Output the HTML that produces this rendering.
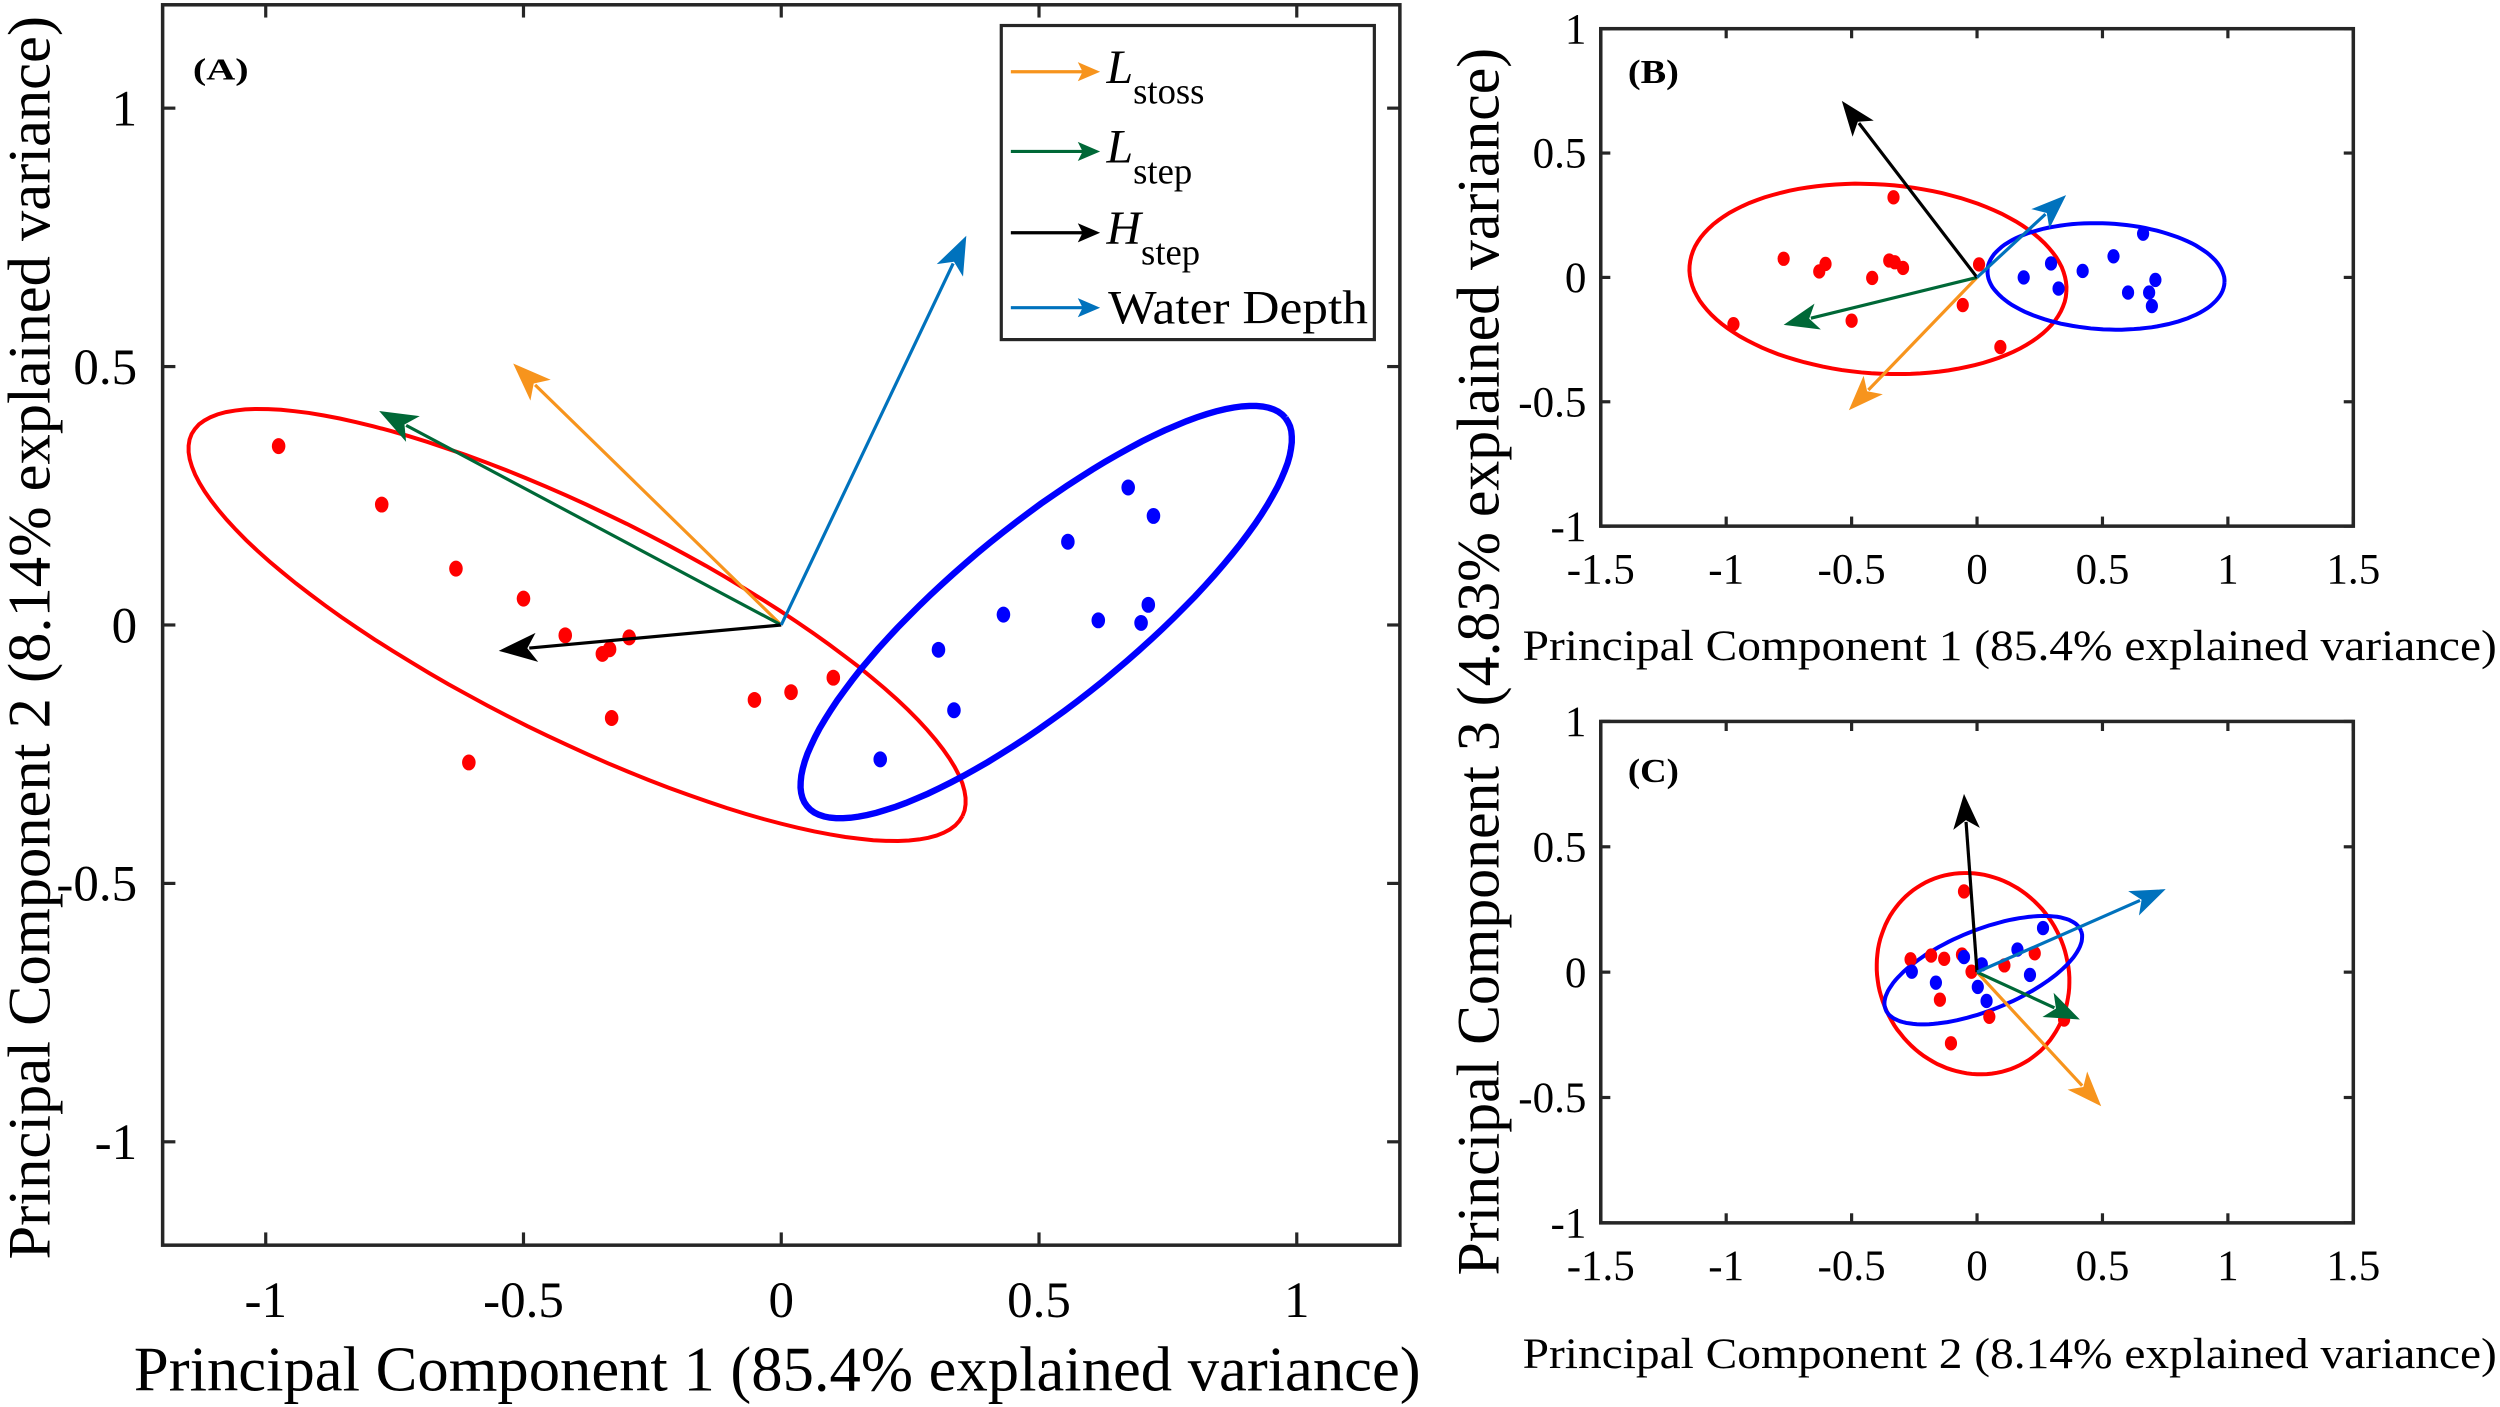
<!DOCTYPE html>
<html><head><meta charset="utf-8"><style>html,body{margin:0;padding:0;background:#fff}svg{display:block}</style></head>
<body>
<svg id="fig" xmlns="http://www.w3.org/2000/svg" width="2500" height="1407" viewBox="0 0 1568 882.5" preserveAspectRatio="none"></svg>
<script>
// Panel A data (PC1 vs PC2)
const redA_x=[-0.975,-0.775,-0.631,-0.500,-0.419,-0.295,-0.333,-0.347,-0.329,-0.606,-0.052,0.019,0.101];
const redA_y=[0.346,0.233,0.109,0.051,-0.020,-0.024,-0.047,-0.056,-0.180,-0.266,-0.145,-0.130,-0.102];
const blueA_x=[0.673,0.722,0.556,0.712,0.431,0.615,0.698,0.305,0.335,0.192];
const blueA_y=[0.266,0.211,0.161,0.039,0.020,0.009,0.004,-0.048,-0.165,-0.260];
const arrowA_x=[-0.52,-0.78,-0.548,0.359];
const arrowA_y=[0.506,0.414,-0.05,0.753];
// Panel B data (PC1 vs PC3)
const redB_x=[-0.771,-0.604,-0.629,-0.418,-0.350,-0.328,-0.295,-0.333,0.008,-0.057,-0.500,-0.971,0.093];
const redB_y=[0.075,0.054,0.024,-0.002,0.068,0.061,0.038,0.322,0.052,-0.111,-0.174,-0.188,-0.280];
const blueB_x=[0.186,0.295,0.325,0.421,0.544,0.602,0.662,0.686,0.711,0.697];
const blueB_y=[0,0.056,-0.045,0.026,0.085,-0.061,0.176,-0.061,-0.010,-0.115];
const arrowB_x=[-0.511,-0.771,-0.539,0.355];
const arrowB_y=[-0.534,-0.191,0.710,0.331];
// Panel C data (PC2 vs PC3)
const redC_x=[-0.052,-0.265,-0.183,-0.131,-0.060,-0.022,0.109,0.230,-0.148,-0.104,0.049,0.347];
const redC_y=[0.322,0.051,0.066,0.053,0.070,0.002,0.027,0.075,-0.110,-0.284,-0.178,-0.189];
const blueC_x=[-0.260,-0.164,-0.052,0.019,0.003,0.038,0.161,0.211,0.263];
const blueC_y=[0.002,-0.042,0.060,0.031,-0.059,-0.115,0.090,-0.011,0.176];
const arrowC_x=[0.495,0.410,-0.052,0.752];
const arrowC_y=[-0.535,-0.189,0.711,0.331];
const arrowColors=['#f7941d','#006837','#000000','#0072bd'];
const arrowNames=['l-stoss','l-step','h-step','water-depth'];
// ellipses: [cx, cy, a, b, angleDeg]
const ellA_red=[-0.396,0.0,0.834,0.218,-26.3];
const ellA_blue=[0.514,0.025,0.597,0.173,39];
const ellB_red=[-0.395,-0.006,0.753,0.380,-4];
const ellB_blue=[0.514,0.004,0.473,0.213,-3];
const ellC_red=[-0.016,-0.006,0.41,0.375,-60];
const ellC_blue=[0.025,0.008,0.42,0.16,22];
const ticksA=[-1,-0.5,0,0.5,1];
const ticksBx=[-1.5,-1,-0.5,0,0.5,1,1.5];
const ticksBy=[-1,-0.5,0,0.5,1];

const NS='http://www.w3.org/2000/svg';
const svg=document.getElementById('fig');
const SERIF='"Liberation Serif",serif';
function el(tag,attrs,parent){const e=document.createElementNS(NS,tag);for(const k in attrs)e.setAttribute(k,attrs[k]);(parent||svg).appendChild(e);return e;}
function lab(v){return String(v);}

function panel(p){
  const g=el('g',{});
  
  
  const sx=v=>p.x0+(v-p.xmin)/(p.xmax-p.xmin)*(p.x1-p.x0);
  const sy=v=>p.y1-(v-p.ymin)/(p.ymax-p.ymin)*(p.y1-p.y0);
  [[p.ellRed,'#ff0000',p.ellW[0],'red-group-ellipse'],[p.ellBlue,'#0000ff',p.ellW[1],'blue-group-ellipse']].forEach(([e,c,w,n])=>{
    const pts=[];const t=e[4]*Math.PI/180;
    for(let i=0;i<=120;i++){const s=i/120*2*Math.PI;const dx=e[2]*Math.cos(s),dy=e[3]*Math.sin(s);
      const X=e[0]+dx*Math.cos(t)-dy*Math.sin(t),Y=e[1]+dx*Math.sin(t)+dy*Math.cos(t);
      pts.push(sx(X).toFixed(1)+','+sy(Y).toFixed(1));}
    const pl=el('polyline',{points:pts.join(' '),fill:'none',stroke:c,'stroke-width':w},g);
    
    
  });
  [[p.rx,p.ry,'#ff0000','red-point'],[p.bx,p.by,'#0000ff','blue-point']].forEach(([xs,ys,c,n])=>{
    xs.forEach((v,i)=>{const d=el('ellipse',{cx:sx(v),cy:sy(ys[i]),rx:p.dot*0.85,ry:p.dot,fill:c},g);
      
      });
  });
  const ox=sx(0),oy=sy(0);
  p.ax.forEach((v,i)=>{
    const tx=sx(v),ty=sy(p.ay[i]);const c=arrowColors[i];
    const ang=Math.atan2(ty-oy,tx-ox);const L=p.head,W=p.head*0.38;
    const bx=tx-L*Math.cos(ang),by=ty-L*Math.sin(ang);
    const nx=-Math.sin(ang),ny=Math.cos(ang);
    const ag=el('g',{},g);
    
    
    el('line',{x1:ox,y1:oy,x2:bx+L*Math.cos(ang)*0.2,y2:by+L*Math.sin(ang)*0.2,stroke:c,'stroke-width':p.aw},ag);
    const mx=tx-L*0.75*Math.cos(ang),my=ty-L*0.75*Math.sin(ang);
    el('polygon',{points:`${tx},${ty} ${bx+nx*W},${by+ny*W} ${mx},${my} ${bx-nx*W},${by-ny*W}`,fill:c},ag);
  });
  const bx=el('rect',{x:p.x0,y:p.y0,width:p.x1-p.x0,height:p.y1-p.y0,fill:'none',stroke:'#262626','stroke-width':2.2},g);
  
  
  const tl=p.tickLen;
  p.tx.forEach(v=>{const X=sx(v);
    el('line',{x1:X,y1:p.y1,x2:X,y2:p.y1-tl,stroke:'#262626','stroke-width':2},g);
    el('line',{x1:X,y1:p.y0,x2:X,y2:p.y0+tl,stroke:'#262626','stroke-width':2},g);
    const t=el('text',{x:X,y:p.y1+p.xlOff,'text-anchor':'middle','font-size':p.fs,'font-family':SERIF},g);
    t.textContent=lab(v);
    
    });
  p.ty.forEach(v=>{const Y=sy(v);
    el('line',{x1:p.x0,y1:Y,x2:p.x0+tl,y2:Y,stroke:'#262626','stroke-width':2},g);
    el('line',{x1:p.x1,y1:Y,x2:p.x1-tl,y2:Y,stroke:'#262626','stroke-width':2},g);
    const t=el('text',{x:p.x0-p.ylOff,y:Y+p.fs*0.34,'text-anchor':'end','font-size':p.fs,'font-family':SERIF},g);
    t.textContent=lab(v);
    
    });
  const pl=el('text',{x:p.x0+p.plx,y:p.y0+p.ply,'font-size':p.pfs,'font-weight':'bold','font-family':SERIF,textLength:p.plw,lengthAdjust:'spacingAndGlyphs'},g);
  pl.textContent=p.label;
  
  
}

panel({name:'panel-a',x0:102,x1:878,y0:3,y1:781,xmin:-1.2,xmax:1.2,ymin:-1.2,ymax:1.2,rx:redA_x,ry:redA_y,bx:blueA_x,by:blueA_y,ax:arrowA_x,ay:arrowA_y,ellRed:ellA_red,ellBlue:ellA_blue,ellW:[2.5,4],dot:5,head:24,aw:2,tx:ticksA,ty:ticksA,tickLen:8,fs:32,xlOff:45,ylOff:16,label:'(A)',plx:19,ply:47,pfs:19,plw:35});
panel({name:'panel-b',x0:1004,x1:1476,y0:18,y1:330,xmin:-1.5,xmax:1.5,ymin:-1,ymax:1,rx:redB_x,ry:redB_y,bx:blueB_x,by:blueB_y,ax:arrowB_x,ay:arrowB_y,ellRed:ellB_red,ellBlue:ellB_blue,ellW:[2.5,2.5],dot:4.5,head:22,aw:2,tx:ticksBx,ty:ticksBy,tickLen:6,fs:27,xlOff:36,ylOff:9,label:'(B)',plx:17,ply:34,pfs:21,plw:32});
panel({name:'panel-c',x0:1004,x1:1476,y0:452.5,y1:767,xmin:-1.5,xmax:1.5,ymin:-1,ymax:1,rx:redC_x,ry:redC_y,bx:blueC_x,by:blueC_y,ax:arrowC_x,ay:arrowC_y,ellRed:ellC_red,ellBlue:ellC_blue,ellW:[2.5,2.5],dot:4.5,head:22,aw:2,tx:ticksBx,ty:ticksBy,tickLen:6,fs:27,xlOff:36,ylOff:9,label:'(C)',plx:17,ply:38,pfs:21,plw:32});
</script>
<svg style="position:absolute;left:0;top:0" width="2500" height="1407" viewBox="0 0 1568 882.5" preserveAspectRatio="none" xmlns="http://www.w3.org/2000/svg" font-family="Liberation Serif, serif">
  <text x="84" y="872" font-size="40" textLength="807" lengthAdjust="spacingAndGlyphs">Principal Component 1 (85.4% explained variance)</text>
  <text transform="translate(31,790) rotate(-90)" font-size="38" textLength="780" lengthAdjust="spacingAndGlyphs">Principal Component 2 (8.14% explained variance)</text>
  <text x="955" y="414" font-size="27" textLength="611" lengthAdjust="spacingAndGlyphs">Principal Component 1 (85.4% explained variance)</text>
  <text x="955" y="858" font-size="27" textLength="611" lengthAdjust="spacingAndGlyphs">Principal Component 2 (8.14% explained variance)</text>
  <text transform="translate(940,800) rotate(-90)" font-size="38" textLength="770" lengthAdjust="spacingAndGlyphs">Principal Component 3 (4.83% explained variance)</text>
  <g>
    <rect x="628" y="16" width="234" height="197" fill="#fff" stroke="#262626" stroke-width="2"/>
    <g>
      <line x1="634" y1="45" x2="680" y2="45" stroke="#f7941d" stroke-width="2"/>
      <polygon points="690,45 676,39 679,45 676,51" fill="#f7941d"/>
      <text x="694" y="52" font-size="30"><tspan font-style="italic">L</tspan><tspan font-size="23" dy="13">stoss</tspan></text>
    </g>
    <g>
      <line x1="634" y1="95" x2="680" y2="95" stroke="#006837" stroke-width="2"/>
      <polygon points="690,95 676,89 679,95 676,101" fill="#006837"/>
      <text x="694" y="102" font-size="30"><tspan font-style="italic">L</tspan><tspan font-size="23" dy="13">step</tspan></text>
    </g>
    <g>
      <line x1="634" y1="146" x2="680" y2="146" stroke="#000" stroke-width="2"/>
      <polygon points="690,146 676,140 679,146 676,152" fill="#000"/>
      <text x="694" y="153" font-size="30"><tspan font-style="italic">H</tspan><tspan font-size="23" dy="13">step</tspan></text>
    </g>
    <g>
      <line x1="634" y1="193" x2="680" y2="193" stroke="#0072bd" stroke-width="2"/>
      <polygon points="690,193 676,187 679,193 676,199" fill="#0072bd"/>
      <text x="695" y="203" font-size="30" textLength="163" lengthAdjust="spacingAndGlyphs">Water Depth</text>
    </g>
  </g>
</svg>
</body></html>
